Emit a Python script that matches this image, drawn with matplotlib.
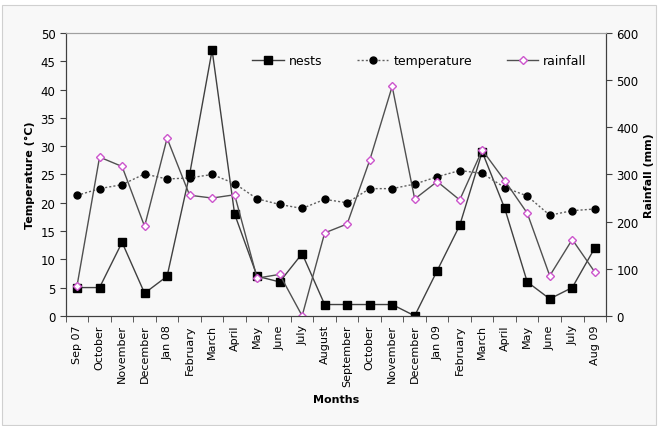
import numpy as np
import matplotlib.pyplot as plt
from matplotlib.patches import Rectangle

months = ["Sep 07", "October", "November", "December", "Jan 08", "February",
          "March", "April", "May", "June", "July", "August", "September",
          "October", "November", "December", "Jan 09", "February", "March",
          "April", "May", "June", "July", "Aug 09"]
nests = [5, 5, 13, 4, 7, 25, 47, 18, 7, 6, 11, 2, 2, 2, 2, 0, 8, 16, 29, 19, 6, 3, 5, 12]
temperature = [21.3, 22.5, 23.2, 25.1, 24.2, 24.4, 25.0, 23.4, 20.7, 19.7, 19.0, 20.6,
               20.0, 22.5, 22.5, 23.3, 24.6, 25.7, 25.2, 22.7, 21.2, 17.8, 18.6, 18.9]
rainfall = [64, 337, 317, 190, 377, 256, 250, 257, 80, 88, 0, 176,
            195, 330, 487, 248, 285, 246, 352, 287, 218, 85, 162, 93]

bg = "#f8f8f8"
fig = plt.figure(figsize=(6.58, 4.27), dpi=100, facecolor="white")
fig.patches.append(Rectangle((0.003, 0.003), 0.994, 0.982, transform=fig.transFigure,
                             facecolor=bg, edgecolor="#d0d0d0", lw=0.8, zorder=-10))
ax = fig.add_axes([0.100, 0.258, 0.821, 0.662])
ax.set_facecolor(bg)
x = np.arange(len(months))

l1, = ax.plot(x, nests, color="#404040", lw=1, marker="s", ms=5.5,
              mfc="black", mec="black", label="nests")
l2, = ax.plot(x, temperature, color="#606060", lw=1, ls=(0, (1.5, 1.5)), marker="o", ms=5,
              mfc="black", mec="black", label="temperature")
ax.set_ylim(0, 50)
ax.set_yticks(range(0, 51, 5))
ax.set_xlim(-0.5, len(months) - 0.5)
ax.set_xticks(x)
ax.set_xticklabels(months, rotation=90, fontsize=8)
ax.set_xticks(np.arange(-0.5, len(months), 1), minor=True)
ax.tick_params(axis="x", which="major", length=0, pad=6)
ax.tick_params(axis="x", which="minor", length=4, direction="out", color="#404040")
ax.tick_params(axis="y", length=4, labelsize=8.5, color="#404040")
ax.set_ylabel("Temperature (°C)", fontsize=8, fontweight="bold")
ax.set_xlabel("Months", fontsize=8, fontweight="bold", labelpad=6)

ax2 = ax.twinx()
l3, = ax2.plot(x, rainfall, color="#505050", lw=1, marker="D", ms=4.5,
               mfc="white", mec="#cc55cc", mew=1, label="rainfall")
ax2.set_ylim(0, 600)
ax2.set_yticks(range(0, 601, 100))
ax2.tick_params(axis="y", length=4, labelsize=8.5, color="#404040")
ax2.set_ylabel("Rainfall (mm)", fontsize=8, fontweight="bold")

for a in (ax, ax2):
    a.spines["top"].set_color("#a0a0a0")
    a.spines["left"].set_color("#404040")
    a.spines["right"].set_color("#404040")
    a.spines["bottom"].set_color("#404040")

ax.legend(handles=[l1, l2, l3], loc="upper center", bbox_to_anchor=(0.655, 0.965), ncol=3,
          frameon=False, fontsize=9, handlelength=2.5, columnspacing=2.8, handletextpad=0.4)

fig.savefig("out.png", dpi=100, facecolor="white")
